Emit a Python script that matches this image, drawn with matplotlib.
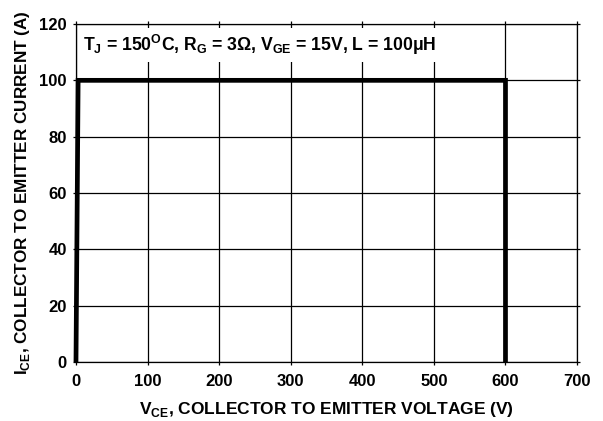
import matplotlib
matplotlib.use("Agg")
import matplotlib.pyplot as plt

plt.rcParams['font.family'] = 'Liberation Sans'
plt.rcParams['font.weight'] = 'bold'

# SOA boundary (V, A)
v_ce = [0, 3, 600, 600]
i_ce = [0, 100, 100, 0]

x_ticks = [0, 100, 200, 300, 400, 500, 600, 700]
y_ticks = [0, 20, 40, 60, 80, 100, 120]

fig = plt.figure(figsize=(6.03, 4.21), dpi=100)
ax = fig.add_axes([0.126, 0.140, 0.831, 0.803])

ax.plot(v_ce, i_ce, color='black', linewidth=3.4, solid_joinstyle='miter',
        solid_capstyle='butt', clip_on=False, zorder=3)

ax.set_xlim(0, 700)
ax.set_ylim(0, 120)
ax.set_xticks(x_ticks)
ax.set_yticks(y_ticks)
ax.grid(True, color='black', linewidth=0.9)
ax.tick_params(labelsize=12, length=2.5, width=0.9, direction='out',
               top=True, right=True)
ax.tick_params(axis='x', pad=6)
ax.tick_params(axis='y', pad=4)
for lbl in ax.get_xticklabels() + ax.get_yticklabels():
    lbl.set_fontweight('bold')
for s in ax.spines.values():
    s.set_linewidth(0.9)

ax.set_xlabel(r'V$_\mathregular{CE}$, COLLECTOR TO EMITTER VOLTAGE (V)', fontsize=12.5, fontweight='bold', labelpad=8)
ax.set_ylabel(r'I$_\mathregular{CE}$, COLLECTOR TO EMITTER CURRENT (A)', fontsize=12.3, fontweight='bold', labelpad=5)

# conditions box, white background cuts the grid
ax.text(10, 110.4, r'T$_\mathregular{J}$ = 150$^\mathregular{O}$C, R$_\mathregular{G}$ = 3Ω, V$_\mathregular{GE}$ = 15V, L = 100μH',
        fontsize=12.7, fontweight='bold', va='baseline', ha='left', zorder=4,
        bbox=dict(facecolor='white', edgecolor='none', pad=3.5))

fig.savefig('out.png', dpi=100)
